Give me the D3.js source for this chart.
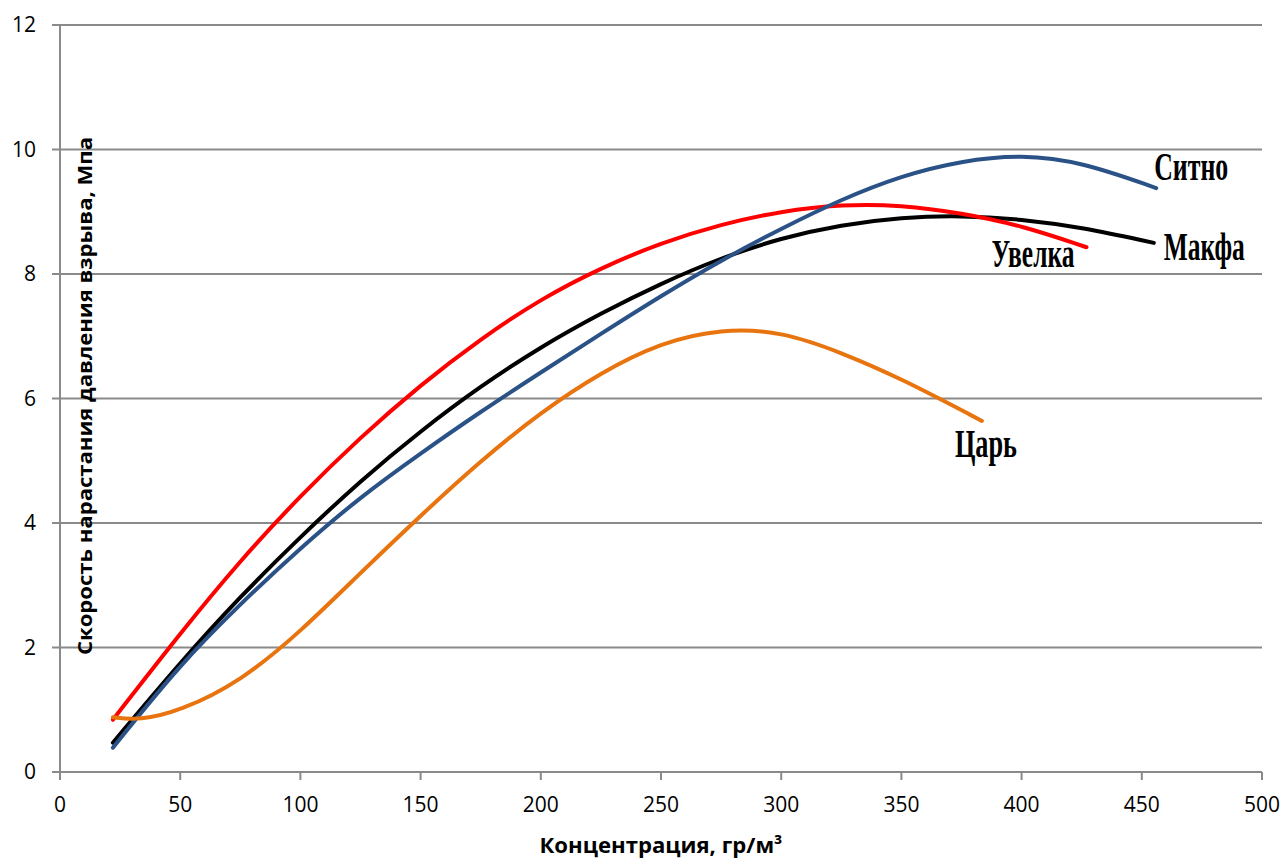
<!DOCTYPE html>
<html>
<head>
<meta charset="utf-8">
<script src="https://cdn.jsdelivr.net/npm/d3@7"></script>
<style>
  body { margin: 0; background: #fff; }
  svg text { font-family: "Open Sans", "Liberation Sans", sans-serif; }
</style>
</head>
<body>
<div id="chart"></div>
<script>
// concentration values (x) and series
var xSitno = [22, 50, 75, 100, 125, 150, 175, 200, 225, 250, 275, 300, 325, 350, 375, 400, 425, 456];
var ySitno = [0.39, 1.73, 2.7, 3.6, 4.42, 5.12, 5.79, 6.42, 7.04, 7.65, 8.22, 8.73, 9.2, 9.58, 9.82, 9.92, 9.8, 9.38];

var xMakfa = [22, 50, 75, 100, 125, 150, 175, 200, 225, 250, 275, 300, 325, 350, 375, 400, 425, 455];
var yMakfa = [0.47, 1.76, 2.82, 3.78, 4.68, 5.48, 6.2, 6.83, 7.37, 7.85, 8.26, 8.58, 8.79, 8.91, 8.94, 8.88, 8.75, 8.5];

var xUvelka = [22, 50, 75, 100, 125, 150, 175, 200, 225, 250, 275, 300, 325, 350, 375, 400, 427];
var yUvelka = [0.84, 2.23, 3.4, 4.44, 5.38, 6.22, 6.96, 7.6, 8.1, 8.5, 8.8, 9.01, 9.12, 9.11, 8.98, 8.78, 8.43];

var xTsar = [22, 33, 50, 75, 100, 125, 150, 175, 200, 225, 250, 275, 300, 325, 350, 383.5];
var yTsar = [0.88, 0.83, 0.98, 1.45, 2.25, 3.2, 4.12, 5.0, 5.78, 6.42, 6.9, 7.12, 7.08, 6.74, 6.32, 5.64];

var xTicks = [0, 50, 100, 150, 200, 250, 300, 350, 400, 450, 500];
var yTicks = [0, 2, 4, 6, 8, 10, 12];

var seriesNames = ["Макфа", "Увелка", "Ситно", "Царь"];
var seriesColors = ["#000000", "#ff0000", "#2a5287", "#e8740f"];
var seriesX = [xMakfa, xUvelka, xSitno, xTsar];
var seriesY = [yMakfa, yUvelka, ySitno, yTsar];

// label placement relative to end of each curve (px), and target width
var labelCfg = {
  "Макфа":  {dx: 10,  dy: 17, w: 81, anchor: "start"},
  "Увелка": {dx: -12, dy: 20, w: 83, anchor: "end"},
  "Ситно":  {dx: -2,  dy: -8, w: 74, anchor: "start"},
  "Царь":   {dx: -27, dy: 36, w: 62, anchor: "start"}
};

var W = 1286, H = 859;
var margin = {top: 25, right: 24, bottom: 87, left: 60};
var width = W - margin.left - margin.right,
    height = H - margin.top - margin.bottom;

var svg = d3.select("#chart").append("svg")
    .attr("width", W)
    .attr("height", H)
  .append("g")
    .attr("transform", "translate(" + margin.left + "," + margin.top + ")");

var x = d3.scaleLinear().domain([0, 500]).range([0, width]);
var y = d3.scaleLinear().domain([0, 12]).range([height, 0]);

var gridColor = "#8a8a8a";

// horizontal gridlines incl. left tick
svg.selectAll(".grid")
  .data(yTicks)
  .enter().append("line")
    .attr("class", "grid")
    .attr("x1", -8)
    .attr("x2", width)
    .attr("y1", function(d) { return y(d); })
    .attr("y2", function(d) { return y(d); })
    .attr("stroke", gridColor)
    .attr("stroke-width", 2);

// y axis line
svg.append("line")
  .attr("x1", 0).attr("x2", 0)
  .attr("y1", 0).attr("y2", height + 8)
  .attr("stroke", gridColor)
  .attr("stroke-width", 2);

// x ticks
svg.selectAll(".xtick")
  .data(xTicks)
  .enter().append("line")
    .attr("class", "xtick")
    .attr("x1", function(d) { return x(d); })
    .attr("x2", function(d) { return x(d); })
    .attr("y1", height)
    .attr("y2", height + 8)
    .attr("stroke", gridColor)
    .attr("stroke-width", 2);

// tick labels
svg.selectAll(".ylab")
  .data(yTicks)
  .enter().append("text")
    .attr("class", "ylab")
    .attr("x", -24)
    .attr("y", function(d) { return y(d); })
    .attr("dy", "0.35em")
    .style("text-anchor", "end")
    .style("font-size", "21px")
    .text(function(d) { return d; });

svg.selectAll(".xlab")
  .data(xTicks)
  .enter().append("text")
    .attr("class", "xlab")
    .attr("x", function(d) { return x(d); })
    .attr("y", height + 40)
    .style("text-anchor", "middle")
    .style("font-size", "21px")
    .text(function(d) { return d; });

// axis titles
svg.append("text")
  .attr("x", x(250))
  .attr("y", height + 81)
  .style("text-anchor", "middle")
  .style("font-size", "21px")
  .style("font-weight", "bold")
  .attr("textLength", 243)
  .attr("lengthAdjust", "spacingAndGlyphs")
  .text("Концентрация, гр/м³");

svg.append("text")
  .attr("transform", "translate(" + 32 + "," + 371 + ") rotate(-90)")
  .style("text-anchor", "middle")
  .style("font-size", "20px")
  .style("font-weight", "bold")
  .attr("textLength", 518)
  .attr("lengthAdjust", "spacingAndGlyphs")
  .text("Скорость нарастания давления взрыва, Мпа");

var line = d3.line()
  .x(function(d) { return x(d[0]); })
  .y(function(d) { return y(d[1]); })
  .curve(d3.curveBasis);

seriesNames.forEach(function(name, i) {
  var pts = seriesX[i].map(function(v, j) { return [v, seriesY[i][j]]; });
  svg.append("path")
    .datum(pts)
    .attr("fill", "none")
    .attr("stroke", seriesColors[i])
    .attr("stroke-width", 4)
    .attr("stroke-linecap", "round")
    .attr("d", line);

  var last = pts[pts.length - 1];
  var c = labelCfg[name];
  svg.append("text")
    .attr("x", x(last[0]) + c.dx)
    .attr("y", y(last[1]) + c.dy)
    .style("text-anchor", c.anchor)
    .style("font-family", "'Liberation Serif', 'DejaVu Serif', serif")
    .style("font-weight", "bold")
    .style("font-size", "40px")
    .attr("textLength", c.w)
    .attr("lengthAdjust", "spacingAndGlyphs")
    .text(name);
});
</script>
</body>
</html>
